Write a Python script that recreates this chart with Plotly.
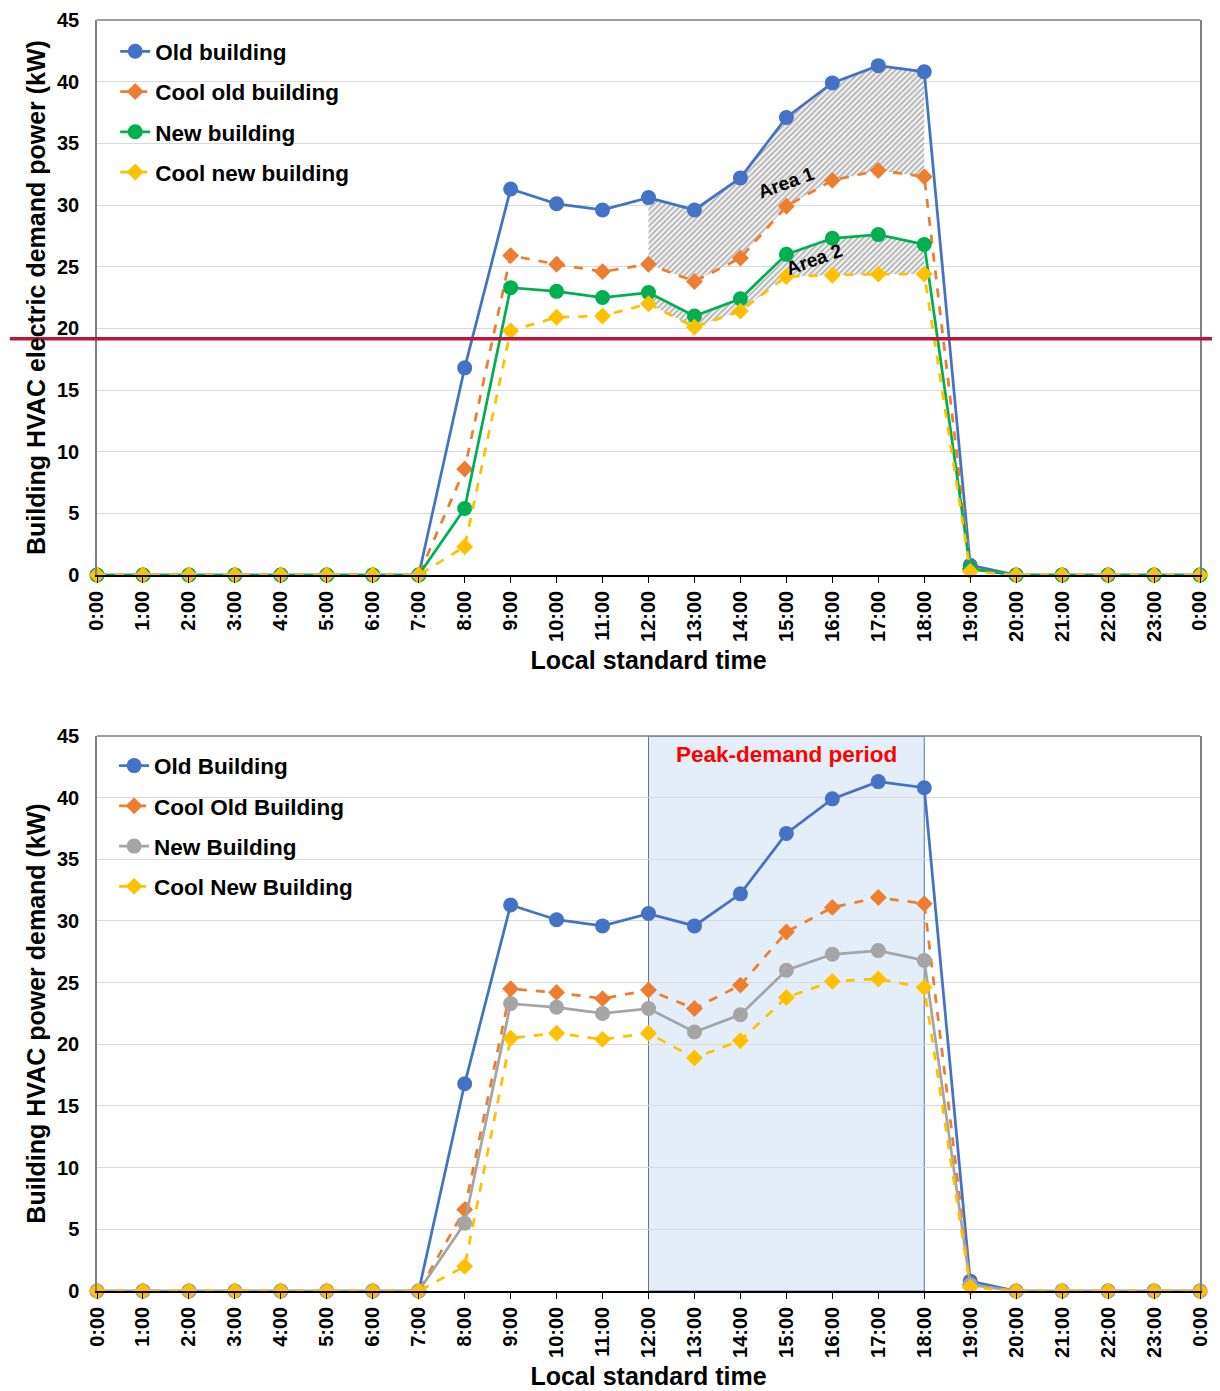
import plotly.graph_objects as go
from plotly.subplots import make_subplots

hours = list(range(25))
tick_labels = [f"{h % 24}:00" for h in hours]

# Top chart
old_building = [0, 0, 0, 0, 0, 0, 0, 0, 16.8, 31.3, 30.1, 29.6, 30.6, 29.6, 32.2, 37.1, 39.9, 41.3, 40.8, 0.8, 0, 0, 0, 0, 0]
cool_old_building = [0, 0, 0, 0, 0, 0, 0, 0, 8.6, 25.9, 25.2, 24.6, 25.2, 23.8, 25.7, 29.9, 32.0, 32.8, 32.3, 0.5, 0, 0, 0, 0, 0]
new_building = [0, 0, 0, 0, 0, 0, 0, 0, 5.4, 23.3, 23.0, 22.5, 22.9, 21.0, 22.4, 26.0, 27.3, 27.6, 26.8, 0.5, 0, 0, 0, 0, 0]
cool_new_building = [0, 0, 0, 0, 0, 0, 0, 0, 2.3, 19.8, 20.9, 21.0, 22.0, 20.1, 21.4, 24.2, 24.3, 24.4, 24.4, 0.3, 0, 0, 0, 0, 0]

# Bottom chart
old_building_b = [0, 0, 0, 0, 0, 0, 0, 0, 16.8, 31.3, 30.1, 29.6, 30.6, 29.6, 32.2, 37.1, 39.9, 41.3, 40.8, 0.8, 0, 0, 0, 0, 0]
cool_old_building_b = [0, 0, 0, 0, 0, 0, 0, 0, 6.6, 24.5, 24.2, 23.7, 24.4, 22.9, 24.8, 29.1, 31.1, 31.9, 31.4, 0.5, 0, 0, 0, 0, 0]
new_building_b = [0, 0, 0, 0, 0, 0, 0, 0, 5.5, 23.3, 23.0, 22.5, 22.9, 21.0, 22.4, 26.0, 27.3, 27.6, 26.8, 0.5, 0, 0, 0, 0, 0]
cool_new_building_b = [0, 0, 0, 0, 0, 0, 0, 0, 2.0, 20.5, 20.9, 20.4, 20.9, 18.9, 20.3, 23.8, 25.1, 25.3, 24.6, 0.3, 0, 0, 0, 0, 0]

threshold = 19.15
peak_start, peak_end = 12, 18

BLUE = "#4472C4"
ORANGE = "#ED7D31"
GREEN = "#00B050"
YELLOW = "#FFC000"
GRAY = "#A5A5A5"
FONT = "Arial, Liberation Sans, sans-serif"

fig = make_subplots(rows=2, cols=1)

pattern = dict(shape="/", fgcolor="#6a6a6a", bgcolor="#f2f2f2", size=4, solidity=0.4)
seg = slice(peak_start, peak_end + 1)
for upper, lower in [(old_building, cool_old_building), (new_building, cool_new_building)]:
    fig.add_trace(go.Scatter(x=hours[seg], y=upper[seg], mode="lines", line=dict(width=0),
                             showlegend=False, hoverinfo="skip"), row=1, col=1)
    fig.add_trace(go.Scatter(x=hours[seg], y=lower[seg], mode="lines", line=dict(width=0),
                             fill="tonexty", fillcolor="rgba(0,0,0,0)", fillpattern=pattern,
                             showlegend=False, hoverinfo="skip"), row=1, col=1)

def add_series(y, name, color, symbol, dash, row, legend, group):
    size = 15 if symbol == "circle" else 13
    fig.add_trace(go.Scatter(
        x=hours, y=y, name=name, mode="lines+markers",
        line=dict(color=color, width=2.75, dash=dash),
        marker=dict(color=color, size=size, symbol=symbol),
        cliponaxis=False, legend=legend, legendgroup=group,
    ), row=row, col=1)

add_series(old_building, "Old building", BLUE, "circle", "solid", 1, "legend", "a1")
add_series(cool_old_building, "Cool old building", ORANGE, "diamond", "dash", 1, "legend", "a2")
add_series(new_building, "New building", GREEN, "circle", "solid", 1, "legend", "a3")
add_series(cool_new_building, "Cool new building", YELLOW, "diamond", "dash", 1, "legend", "a4")

add_series(old_building_b, "Old Building", BLUE, "circle", "solid", 2, "legend2", "b1")
add_series(cool_old_building_b, "Cool Old Building", ORANGE, "diamond", "dash", 2, "legend2", "b2")
add_series(new_building_b, "New Building", GRAY, "circle", "solid", 2, "legend2", "b3")
add_series(cool_new_building_b, "Cool New Building", YELLOW, "diamond", "dash", 2, "legend2", "b4")

tick_font = dict(family=FONT, size=20, color="black", weight="bold")
title_font = dict(family=FONT, size=25, color="black", weight="bold")

for r, dom in [(1, [0.5633, 1.0]), (2, [0.0, 0.4367])]:
    fig.update_xaxes(row=r, col=1, range=[0, 24], tickmode="array", tickvals=hours, ticktext=tick_labels,
                     tickangle=-90, tickfont=tick_font, ticks="outside", ticklen=6, tickcolor="black",
                     showline=True, linecolor="black", linewidth=1.5, showgrid=False, zeroline=False,
                     automargin=False,
                     title=dict(text="Local standard time", font=title_font, standoff=11))
    fig.update_yaxes(row=r, col=1, range=[0, 45], dtick=5, domain=dom, tickfont=tick_font,
                     showline=True, linecolor="#7f7f7f", linewidth=1.5, mirror=True,
                     showgrid=True, gridcolor="#d9d9d9", gridwidth=1, zeroline=False,
                     ticks="", automargin=False, ticklabelstandoff=12)

fig.update_yaxes(row=1, col=1, title=dict(text="Building HVAC electric demand power (kW)", font=title_font, standoff=4))
fig.update_yaxes(row=2, col=1, title=dict(text="Building HVAC power demand (kW)", font=title_font, standoff=4))

# top frame lines (gray)
for yr, xr in [("y domain", "x domain"), ("y2 domain", "x2 domain")]:
    fig.add_shape(type="line", xref=xr, yref=yr, x0=0, x1=1, y0=1, y1=1,
                  line=dict(color="#7f7f7f", width=1.5))

# peak-demand period shading (bottom)
fig.add_shape(type="rect", xref="x2", yref="y2", x0=peak_start, x1=peak_end, y0=0, y1=45,
              fillcolor="#DEEBF7", opacity=0.8, line=dict(color="#2F5597", width=1), layer="below")
fig.add_annotation(xref="x2", yref="y2", x=(peak_start + peak_end) / 2, y=43.5,
                   text="Peak-demand period", showarrow=False,
                   font=dict(family=FONT, size=22.5, color="#FF0000", weight="bold"))

# threshold line (top), extends beyond plot
fig.add_shape(type="line", xref="paper", yref="y", x0=-0.079, x1=1.02, y0=threshold, y1=threshold,
              line=dict(color="#C0143C", width=3.5))

fig.add_annotation(xref="x", yref="y", x=15.0, y=31.8, text="Area 1", showarrow=False,
                   textangle=-20, font=dict(family=FONT, size=19, color="black", weight="bold"))
fig.add_annotation(xref="x", yref="y", x=15.6, y=25.6, text="Area 2", showarrow=False,
                   textangle=-20, font=dict(family=FONT, size=19, color="black", weight="bold"))

legend_font = dict(family=FONT, size=22.5, color="black", weight="bold")
fig.update_layout(
    width=1212, height=1383,
    margin=dict(l=89, r=20, t=12, b=100, autoexpand=False),
    paper_bgcolor="white", plot_bgcolor="white",
    font=dict(family=FONT),
    legend=dict(x=0.0165, y=0.992, xanchor="left", yanchor="top", font=legend_font,
                bgcolor="rgba(0,0,0,0)", tracegroupgap=8, itemwidth=30),
    legend2=dict(x=0.0155, y=0.43, xanchor="left", yanchor="top", font=legend_font,
                 bgcolor="rgba(0,0,0,0)", tracegroupgap=8, itemwidth=30),
)

fig.write_html("out.html")
